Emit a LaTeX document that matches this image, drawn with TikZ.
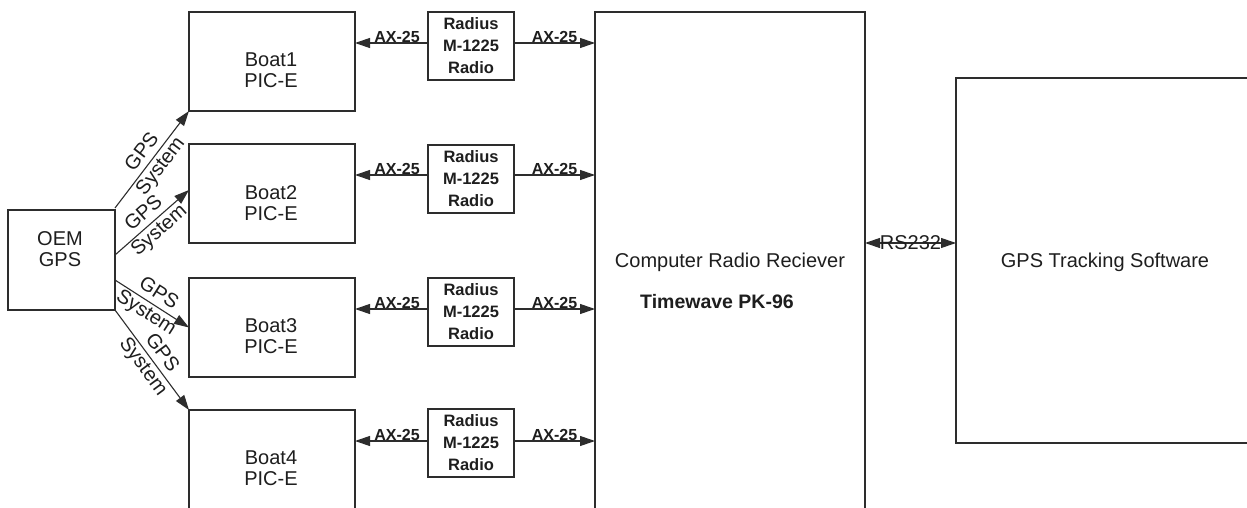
\documentclass[tikz,border=0pt]{standalone}
\usepackage{fontspec}
\setmainfont{Liberation Sans}
\usetikzlibrary{arrows.meta,calc}
\definecolor{linec}{RGB}{45,45,45}
\definecolor{textc}{RGB}{30,30,30}
\begin{document}
\begin{tikzpicture}[x=1pt,y=-1pt,
  blk/.style={draw=linec, line width=1.1pt, inner sep=0pt, outer sep=0pt},
  txt/.style={text=textc, font=\fontsize{20}{20.5}\selectfont, align=center, inner sep=0pt},
  rtxt/.style={text=textc, font=\fontsize{16.5}{22}\selectfont\bfseries, align=center, inner sep=0pt},
  lab/.style={text=textc, font=\fontsize{16}{18}\selectfont\bfseries, inner sep=0pt},
  gl/.style={text=textc, font=\fontsize{20}{20}\selectfont, inner sep=1pt},
  arr/.style={draw=linec, line width=1.1pt, -{Triangle[length=15pt,width=10pt]}},
  barr/.style={draw=linec, line width=1.1pt, {Triangle[length=15pt,width=10pt]}-{Triangle[length=15pt,width=10pt]}},
  boatbox/.style={blk, minimum width=166pt, minimum height=99pt},
  radiobox/.style={blk, rtxt, minimum width=86pt, minimum height=68pt}
]
\clip (0,0) rectangle (1247,508);
\fill[white] (0,0) rectangle (1247,508);

% OEM GPS
\node[blk, minimum width=107pt, minimum height=100pt] (oem) at (61.5,260) {};
\node[txt] (oemt) at (60,249) {OEM\\GPS};

% Boats
\node[boatbox] (b1) at (272,61.5) {};
\node[boatbox] (b2) at (272,193.5) {};
\node[boatbox] (b3) at (272,327.5) {};
\node[boatbox] (b4) at (272,459.5) {};
\node[txt] (b1t) at (271,70) {Boat1\\PIC-E};
\node[txt] (b2t) at (271,203) {Boat2\\PIC-E};
\node[txt] (b3t) at (271,336) {Boat3\\PIC-E};
\node[txt] (b4t) at (271,468) {Boat4\\PIC-E};

% Radios
\node[radiobox] (r1) at (471,46) {Radius\\M-1225\\Radio};
\node[radiobox] (r2) at (471,179) {Radius\\M-1225\\Radio};
\node[radiobox] (r3) at (471,312) {Radius\\M-1225\\Radio};
\node[radiobox] (r4) at (471,443) {Radius\\M-1225\\Radio};

% Computer and software
\node[blk, minimum width=270pt, minimum height=508pt] (comp) at (730,266) {};
\node[txt] (compt) at (730,262) {Computer Radio Reciever};
\node[txt, font=\fontsize{19.5}{20}\selectfont\bfseries] (compt2) at (717,302) {Timewave PK-96};
\node[blk, minimum width=310pt, minimum height=365pt] (soft) at (1111,260.5) {};
\node[txt] (softt) at (1105,262) {GPS Tracking Software};

% arrow heights
\coordinate (y1) at (0,43);
\coordinate (y2) at (0,175);
\coordinate (y3) at (0,309);
\coordinate (y4) at (0,441);
\coordinate (yr) at (0,243);

\foreach \i in {1,2,3,4}{
  \draw[arr] (y\i -| r\i.west) -- node[lab, above, xshift=5.5pt] {AX-25} (y\i -| b\i.east);
  \draw[arr] (y\i -| r\i.east) -- node[lab, above] {AX-25} (y\i -| comp.west);
}

\draw[barr] (yr -| comp.east) -- node[txt] {RS232} (yr -| soft.west);

% GPS system arrows
\draw[arr] ([yshift=2pt]oem.north east) -- node[gl, sloped, above=5pt] {GPS} node[gl, sloped, below=1pt] {System} (b1.south west);
\draw[arr] ([yshift=5pt]oem.east) -- node[gl, sloped, above=5pt] {GPS} node[gl, sloped, below=1pt] {System} ([yshift=3.5pt]b2.west);
\draw[arr] ([yshift=-20pt]oem.east) -- node[gl, sloped, above=5pt] {GPS} node[gl, sloped, below=1pt] {System} (b3.west);
\draw[arr] (oem.south east) -- node[gl, sloped, above=5pt] {GPS} node[gl, sloped, below=1pt] {System} (b4.north west);
\end{tikzpicture}
\end{document}
